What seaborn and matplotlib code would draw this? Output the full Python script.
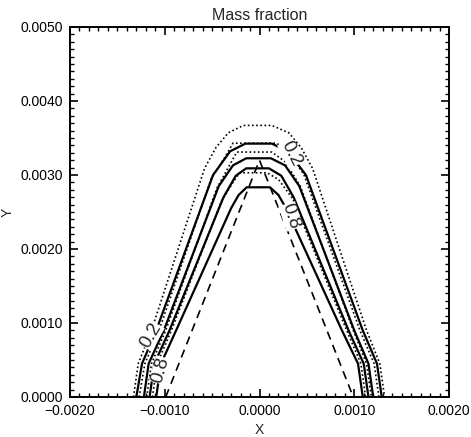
import matplotlib
matplotlib.use("Agg")
import matplotlib.pyplot as plt
import pandas as pd
import seaborn as sns
from matplotlib.ticker import MultipleLocator, FuncFormatter

# Mass-fraction contours (x, y in metres), solid levels 0.2 / 0.4 / 0.6 / 0.8
solid_02_x = [-0.00130, -0.00124, -0.00109, -0.00049, -0.00031, -0.00015,
              0.00013, 0.00030, 0.00049, 0.00109, 0.00124, 0.00129]
solid_02_y = [0.0, 0.00045, 0.0009, 0.0030, 0.00332, 0.003424,
              0.003424, 0.00332, 0.0030, 0.0009, 0.00045, 0.0]

solid_04_x = [-0.00122, -0.00117, -0.00101, -0.00043, -0.00028, -0.00014,
              0.00012, 0.00027, 0.00042, 0.00100, 0.00115, 0.00120]
solid_04_y = [0.0, 0.00045, 0.0009, 0.00285, 0.00313, 0.003226,
              0.003226, 0.00313, 0.00285, 0.0009, 0.00045, 0.0]

solid_06_x = [-0.00116, -0.00111, -0.00095, -0.00038, -0.00025, -0.00014,
              0.00010, 0.00023, 0.00036, 0.00094, 0.00110, 0.00115]
solid_06_y = [0.0, 0.00045, 0.0009, 0.0027, 0.00299, 0.00309,
              0.00309, 0.00299, 0.0027, 0.0009, 0.00045, 0.0]

solid_08_x = [-0.00109, -0.00104, -0.00088, -0.00030, -0.00022, -0.000135,
              0.00011, 0.00020, 0.00028, 0.00087, 0.00104, 0.00109]
solid_08_y = [0.0, 0.00045, 0.0009, 0.00255, 0.00273, 0.002834,
              0.002834, 0.00273, 0.00255, 0.0009, 0.00045, 0.0]

# Intermediate levels, drawn dotted
dotted_1_x = [-0.00133, -0.00128, -0.00114, -0.00058, -0.00046, -0.00033, -0.00017,
              0.00013, 0.00031, 0.00044, 0.00056, 0.00113, 0.00127, 0.00132]
dotted_1_y = [0.0, 0.00045, 0.0009, 0.00309, 0.00337, 0.00357, 0.00367,
              0.00367, 0.00357, 0.00337, 0.00309, 0.0009, 0.00045, 0.0]

dotted_2_x = [-0.00127, -0.00121, -0.00106, -0.00051, -0.00036, -0.00028,
              0.00018, 0.00030, 0.00047, 0.00106, 0.00121, 0.00126]
dotted_2_y = [0.0, 0.00045, 0.0009, 0.00295, 0.00325, 0.00343,
              0.00343, 0.00333, 0.00300, 0.0009, 0.00045, 0.0]

dotted_3_x = [-0.00119, -0.00114, -0.00099, -0.00045, -0.00033, -0.00024,
              0.00013, 0.00027, 0.00043, 0.00099, 0.00113, 0.00118]
dotted_3_y = [0.0, 0.00045, 0.0009, 0.00282, 0.00310, 0.00331,
              0.00331, 0.00318, 0.00285, 0.0009, 0.00045, 0.0]

dotted_4_x = [-0.00113, -0.00108, -0.00093, -0.00040, -0.00028, -0.00021,
              0.00008, 0.00020, 0.00035, 0.00092, 0.00107, 0.00112]
dotted_4_y = [0.0, 0.00045, 0.0009, 0.00265, 0.00290, 0.00303,
              0.00303, 0.00294, 0.00268, 0.0009, 0.00045, 0.0]

# Initial interface (dashed)
interface_x = [-0.00099, 0.0, 0.00099]
interface_y = [0.0, 0.0032, 0.0]

# Contour labels: text, x, y, rotation (deg)
label_text = ["0.2", "0.2", "0.8", "0.8"]
label_x = [0.00033, -0.00115, 0.00033, -0.00104]
label_y = [0.00329, 0.00083, 0.00244, 0.00036]
label_rot = [-63, 60, -72, 74]

lines = [
    ("s02", solid_02_x, solid_02_y, "-"),
    ("s04", solid_04_x, solid_04_y, "-"),
    ("s06", solid_06_x, solid_06_y, "-"),
    ("s08", solid_08_x, solid_08_y, "-"),
    ("d1", dotted_1_x, dotted_1_y, ":"),
    ("d2", dotted_2_x, dotted_2_y, ":"),
    ("d3", dotted_3_x, dotted_3_y, ":"),
    ("d4", dotted_4_x, dotted_4_y, ":"),
    ("iface", interface_x, interface_y, "--"),
]

frames = []
for name, xs, ys, st in lines:
    frames.append(pd.DataFrame({"x": xs, "y": ys, "line": name, "style": st}))
df = pd.concat(frames, ignore_index=True)

sns.set_style("ticks")
plt.rcParams["font.family"] = ["Liberation Sans", "DejaVu Sans"]

fig = plt.figure(figsize=(4.71, 4.37), dpi=100)
ax = fig.add_axes([70 / 471, 1 - 397 / 437, 379 / 471, 370 / 437])

dash_map = {"-": (None, 1.6), ":": ((0, (1, 1.5)), 1.2), "--": ((0, (5, 3.5)), 1.2)}
for name, sub in df.groupby("line", sort=False):
    st = sub["style"].iloc[0]
    ls, lw = dash_map[st]
    line_ax = sns.lineplot(data=sub, x="x", y="y", sort=False, estimator=None,
                           ax=ax, color="black", linewidth=lw)
    if ls is not None:
        line_ax.lines[-1].set_linestyle(ls)
    line_ax.lines[-1].set_solid_joinstyle("round")

for t, x, y, r in zip(label_text, label_x, label_y, label_rot):
    ax.text(x, y, t, rotation=r, ha="center", va="center", fontsize=13.5,
            rotation_mode="anchor",
            bbox=dict(facecolor="white", edgecolor="none", pad=0.1))

ax.set_xlim(-0.002, 0.002)
ax.set_ylim(0.0, 0.005)
ax.xaxis.set_major_locator(MultipleLocator(0.001))
ax.xaxis.set_minor_locator(MultipleLocator(0.0001))
ax.yaxis.set_major_locator(MultipleLocator(0.001))
ax.yaxis.set_minor_locator(MultipleLocator(0.0001))


def fmt(v, pos):
    s = "%.4f" % v
    return s.replace("-", "\u2212") if v < -1e-12 else "%.4f" % abs(v)


ax.xaxis.set_major_formatter(FuncFormatter(fmt))
ax.yaxis.set_major_formatter(FuncFormatter(fmt))
ax.tick_params(which="both", direction="in", top=True, right=True,
               color="black", labelsize=10, labelcolor="black")
ax.tick_params(which="major", length=6, width=1.2, pad=5)
ax.tick_params(which="minor", length=3, width=1.0)
for sp in ax.spines.values():
    sp.set_linewidth(1.4)
    sp.set_color("black")

ax.set_xlabel("X", fontsize=10, labelpad=4)
ax.set_ylabel("Y", fontsize=10, labelpad=4)
ax.set_title("Mass fraction", fontsize=11.5, pad=5)

fig.savefig("out.png", dpi=100)
